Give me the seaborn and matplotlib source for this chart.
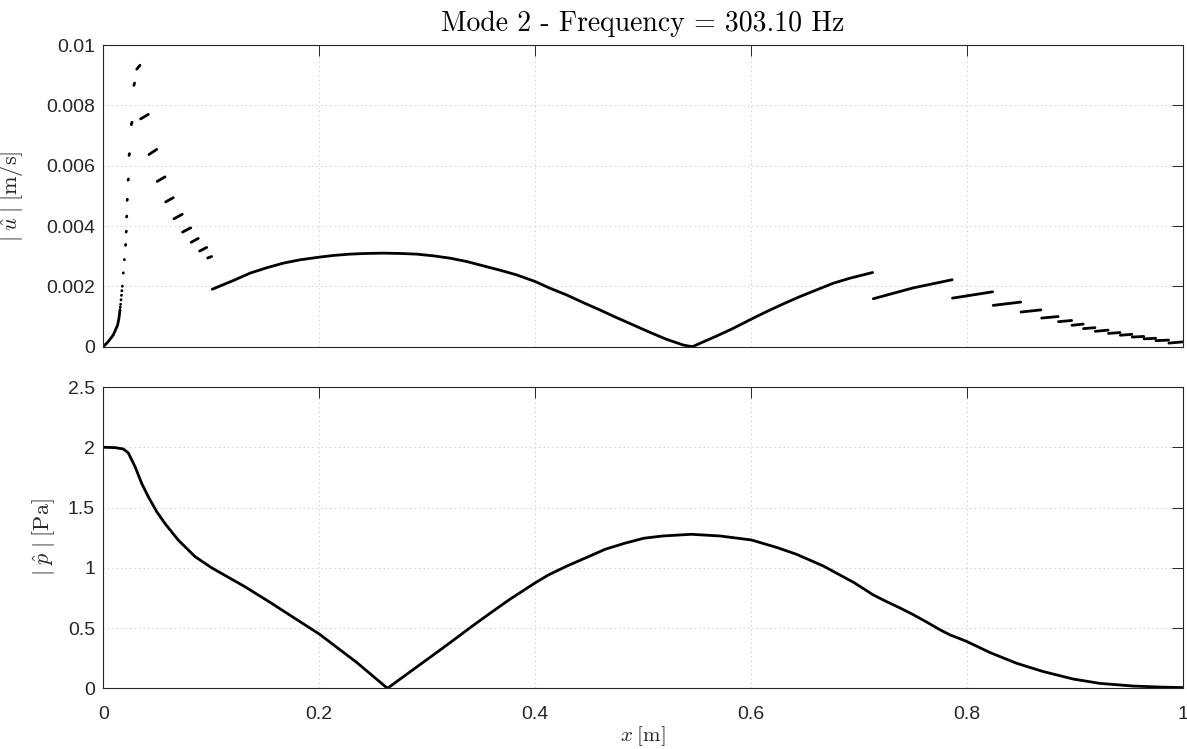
import matplotlib
matplotlib.use('Agg')
import matplotlib.pyplot as plt
import seaborn as sns
import pandas as pd

# |u| along the duct, one list per duct segment (the plot is broken at each junction)
u_seg_x = [
    [0.0, 0.0046, 0.0093, 0.0133, 0.0145, 0.0155],
    [0.0346, 0.0417], [0.0423, 0.0495], [0.0500, 0.0572], [0.0578, 0.0649],
    [0.0655, 0.0732], [0.0735, 0.0810], [0.0814, 0.0880], [0.0893, 0.0958],
    [0.0967, 0.1004],
    [0.1010, 0.1205, 0.1359, 0.1513, 0.1668, 0.1822, 0.2001, 0.2130, 0.2285,
     0.2439, 0.2594, 0.2748, 0.2902, 0.3057, 0.3211, 0.3366, 0.3520, 0.3675,
     0.3829, 0.4002, 0.4138, 0.4292, 0.4446, 0.4601, 0.4755, 0.4910, 0.5064,
     0.5219, 0.5373, 0.5459, 0.5528, 0.5683, 0.5837, 0.6007, 0.6146, 0.6300,
     0.6455, 0.6609, 0.6764, 0.6918, 0.7128],
    [0.7134, 0.7504, 0.7865], [0.7868, 0.824], [0.8245, 0.85], [0.8503, 0.8687],
    [0.8694, 0.8847], [0.8850, 0.8972], [0.8975, 0.9079], [0.9082, 0.9188],
    [0.9191, 0.931], [0.9313, 0.942], [0.9423, 0.953], [0.9533, 0.964],
    [0.9643, 0.975], [0.9753, 0.987], [0.9873, 1.0],
]
u_seg_val = [
    [0.0, 0.00017, 0.00039, 0.00072, 0.00094, 0.00122],
    [0.00755, 0.0077], [0.00637, 0.00654], [0.00548, 0.00563], [0.0048, 0.00494],
    [0.00424, 0.00439], [0.0038, 0.00394], [0.00346, 0.00359], [0.00317, 0.00329],
    [0.00294, 0.00299],
    [0.001906, 0.002194, 0.002437, 0.002615, 0.00277, 0.00288, 0.002969, 0.003024,
     0.003069, 0.003091, 0.003102, 0.003091, 0.003069, 0.003013, 0.002936, 0.002825,
     0.002681, 0.002537, 0.002382, 0.00216, 0.001939, 0.001718, 0.001463, 0.001219,
     0.000965, 0.000721, 0.000477, 0.000245, 0.000056, 0.0, 0.000112, 0.000355,
     0.00061, 0.00092, 0.001164, 0.001419, 0.001662, 0.001884, 0.002105, 0.002271,
     0.00246],
    [0.00159, 0.00195, 0.00222], [0.00161, 0.00182], [0.00137, 0.00148], [0.00115, 0.00122],
    [0.00095, 0.00100], [0.00083, 0.00087], [0.00071, 0.00075], [0.00060, 0.00063],
    [0.00051, 0.00055], [0.00044, 0.00047], [0.00038, 0.00041], [0.00032, 0.00034],
    [0.00026, 0.00028], [0.00020, 0.00022], [0.00012, 0.00016],
]

# tiny segments in the steep part near the inlet (they show up as dots)
dot_x0 = [0.0157, 0.0160, 0.0164, 0.0168, 0.0172, 0.0176, 0.0185, 0.0195, 0.0206,
          0.0212, 0.0216, 0.0221, 0.0230, 0.0239, 0.0260, 0.0284, 0.0310]
dot_x1 = [0.0158, 0.0161, 0.0165, 0.0169, 0.0173, 0.0177, 0.0186, 0.0196, 0.0208,
          0.0214, 0.0218, 0.0223, 0.0233, 0.0243, 0.0266, 0.0290, 0.0340]
dot_u0 = [0.00130, 0.00140, 0.00155, 0.00170, 0.00185, 0.00200, 0.00244, 0.00288, 0.00336,
          0.00380, 0.00430, 0.00485, 0.00552, 0.00634, 0.00736, 0.00866, 0.00920]
dot_u1 = [0.00131, 0.00141, 0.00156, 0.00171, 0.00186, 0.00201, 0.00245, 0.00289, 0.00339,
          0.00383, 0.00433, 0.00489, 0.00556, 0.00640, 0.00744, 0.00874, 0.00933]

# |p| along the duct
p_x = [0, 0.0108, 0.0185, 0.0232, 0.0294, 0.0356, 0.0417, 0.0495, 0.0572, 0.0695,
       0.085, 0.1004, 0.1313, 0.156, 0.1776, 0.2002, 0.2348, 0.2633, 0.2878, 0.3055,
       0.3233, 0.3409, 0.3587, 0.3764, 0.4005, 0.4119, 0.4296, 0.4474, 0.4651, 0.4828,
       0.5006, 0.5183, 0.5448, 0.5714, 0.6005, 0.6246, 0.6423, 0.6671, 0.6956,
       0.7134, 0.7258, 0.7381, 0.7505, 0.7628, 0.7752, 0.7844, 0.8, 0.8215, 0.8462,
       0.8709, 0.8987, 0.9234, 0.9543, 0.979, 1.0]
p_val = [2.0, 1.997, 1.986, 1.953, 1.84, 1.70, 1.59, 1.466, 1.367, 1.23,
         1.093, 1.0, 0.843, 0.705, 0.58, 0.45, 0.215, 0.0, 0.16, 0.275,
         0.392, 0.51, 0.625, 0.737, 0.877, 0.938, 1.015, 1.084, 1.154, 1.203,
         1.245, 1.264, 1.278, 1.264, 1.231, 1.167, 1.112, 1.015, 0.877,
         0.775, 0.719, 0.667, 0.611, 0.550, 0.486, 0.444, 0.389, 0.297, 0.208,
         0.139, 0.077, 0.041, 0.019, 0.0107, 0.006]

x_ticks = [0, 0.2, 0.4, 0.6, 0.8, 1]
x_labels = ['0', '0.2', '0.4', '0.6', '0.8', '1']
u_ticks = [0, 0.002, 0.004, 0.006, 0.008, 0.01]
u_labels = ['0', '0.002', '0.004', '0.006', '0.008', '0.01']
p_ticks = [0, 0.5, 1, 1.5, 2, 2.5]
p_labels = ['0', '0.5', '1', '1.5', '2', '2.5']

# long-form table for seaborn
rows = []
for i, (xs, us) in enumerate(zip(u_seg_x, u_seg_val)):
    for xv, uv in zip(xs, us):
        rows.append({'x': xv, 'u': uv, 'seg': i})
n = len(u_seg_x)
for j in range(len(dot_x0)):
    rows.append({'x': dot_x0[j], 'u': dot_u0[j], 'seg': n + j})
    rows.append({'x': dot_x1[j], 'u': dot_u1[j], 'seg': n + j})
u_df = pd.DataFrame(rows)
p_df = pd.DataFrame({'x': p_x, 'p': p_val})

sns.set_style('white')
plt.rcParams['font.family'] = ['Liberation Sans', 'DejaVu Sans']
plt.rcParams['mathtext.fontset'] = 'cm'

axis_col = '#262626'
fig = plt.figure(figsize=(11.87, 7.49), dpi=100)
ax1 = fig.add_axes([0.087, 0.5371, 0.9093, 0.4028])
ax2 = fig.add_axes([0.087, 0.0810, 0.9093, 0.4023])

sns.lineplot(data=u_df, x='x', y='u', units='seg', estimator=None, sort=False,
             color='black', linewidth=2, ax=ax1)
sns.lineplot(data=p_df, x='x', y='p', estimator=None, sort=False,
             color='black', linewidth=2, ax=ax2)

for ax, yt, yl, ylim in [(ax1, u_ticks, u_labels, (0, 0.01)),
                         (ax2, p_ticks, p_labels, (0, 2.5))]:
    ax.set_xlim(0, 1)
    ax.set_ylim(*ylim)
    ax.set_xticks(x_ticks)
    ax.set_yticks(yt)
    ax.set_yticklabels(yl)
    ax.grid(True, linestyle=(0, (1, 3)), color='#c8c8c8', linewidth=0.8)
    ax.tick_params(direction='in', top=True, right=True, length=7.8, width=0.7,
                   color=axis_col, labelcolor=axis_col, labelsize=14)
    ax.tick_params(axis='y', pad=6)
    ax.tick_params(axis='x', pad=13)
    for s in ax.spines.values():
        s.set_color(axis_col)
        s.set_linewidth(0.8)
        s.set_visible(True)

ax1.set_xticklabels([])
ax1.set_xlabel('')
ax2.set_xticklabels(x_labels)

ax1.set_ylabel(r'$|\;\hat{u}\;|\;[\mathrm{m/s}]$', fontsize=16, color=axis_col)
ax2.set_ylabel(r'$|\;\hat{p}\;|\;[\mathrm{Pa}]$', fontsize=16, color=axis_col)
ax1.yaxis.set_label_coords(-0.0725, 0.5)
ax2.yaxis.set_label_coords(-0.043, 0.5)
ax2.set_xlabel(r'$x\;[\mathrm{m}]$', fontsize=15, color=axis_col)
ax2.xaxis.set_label_coords(0.5, -0.118)
ax1.set_title('Mode 2 - Frequency = 303.10 Hz', family='cmr10', fontsize=20,
              color='black', pad=10)

fig.savefig('out.png', dpi=100)
